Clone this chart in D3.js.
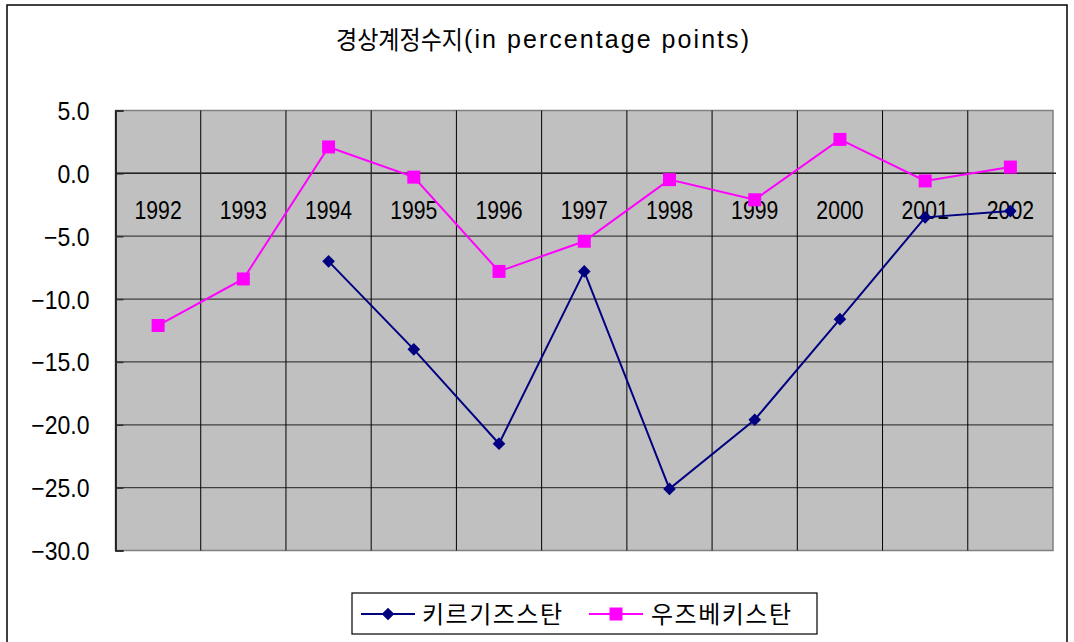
<!DOCTYPE html>
<html>
<head>
<meta charset="utf-8">
<script src="https://cdn.jsdelivr.net/npm/d3@7"></script>
<style>
  body { margin: 0; background: #fff; }
  text { font-family: "Liberation Sans", sans-serif; fill: #000; }
  .kr { font-family: "Noto Sans CJK KR", sans-serif; }
</style>
</head>
<body>
<svg id="chart" width="1074" height="642"></svg>
<script>
var years = ["1992", "1993", "1994", "1995", "1996", "1997", "1998", "1999", "2000", "2001", "2002"];
var kyrgyz = [null, null, -7.0, -14.0, -21.5, -7.8, -25.1, -19.6, -11.6, -3.5, -3.0];
var uzbek = [-12.1, -8.4, 2.1, -0.3, -7.8, -5.4, -0.5, -2.1, 2.7, -0.6, 0.5];
var yTicks = [5, 0, -5, -10, -15, -20, -25, -30];
var seriesNames = ["키르기즈스탄", "우즈베키스탄"];

var svg = d3.select("#chart");
var plotL = 115.5, plotR = 1053, plotT = 110.5, plotB = 550.5;

// squeeze text horizontally to mimic the narrow original font
function squeeze(sel, f) {
  sel.each(function() {
    var w = this.getComputedTextLength();
    d3.select(this).attr("textLength", w * f).attr("lengthAdjust", "spacingAndGlyphs");
  });
}

// outer frame
svg.append("rect").attr("x", 7).attr("y", 5).attr("width", 1060).attr("height", 650)
  .attr("fill", "none").attr("stroke", "#000").attr("stroke-width", 1.5);

svg.append("text").attr("class", "kr").attr("x", 336).attr("y", 49)
  .style("font-size", "25px").attr("textLength", 127).attr("lengthAdjust", "spacingAndGlyphs")
  .text("경상계정수지");
svg.append("text").attr("x", 464).attr("y", 48)
  .style("font-size", "25px").attr("textLength", 285).attr("lengthAdjust", "spacing")
  .text("(in percentage points)");

var x = d3.scaleBand().domain(years).range([plotL, plotR]);
var y = d3.scaleLinear().domain([-30, 5]).range([plotB, plotT]);

svg.append("rect").attr("x", plotL).attr("y", plotT)
  .attr("width", plotR - plotL).attr("height", plotB - plotT)
  .attr("fill", "#c0c0c0").attr("stroke", "#808080").attr("stroke-width", 1.5);

// horizontal grid
svg.append("g").selectAll("line").data(yTicks.filter(function(d) { return d > -30 && d < 5; }))
  .enter().append("line")
  .attr("x1", plotL).attr("x2", plotR)
  .attr("y1", function(d) { return y(d); }).attr("y2", function(d) { return y(d); })
  .attr("stroke", "#404040").attr("stroke-width", 1.2);

// vertical grid
svg.append("g").selectAll("line").data(years.slice(1))
  .enter().append("line")
  .attr("x1", function(d) { return x(d); }).attr("x2", function(d) { return x(d); })
  .attr("y1", plotT).attr("y2", plotB)
  .attr("stroke", "#000").attr("stroke-width", 1);

// y axis
var yAxis = d3.axisLeft(y).tickValues(yTicks).tickSize(-8).tickPadding(26)
  .tickFormat(function(d) { return d3.format(".1f")(d).replace("-", "–"); });
var gy = svg.append("g").attr("transform", "translate(" + plotL + ",0)").call(yAxis);
gy.select(".domain").attr("stroke", "#000").attr("stroke-width", 1.5);
gy.selectAll(".tick line").attr("stroke", "#333").attr("stroke-width", 1.5);
gy.selectAll("text").style("font-size", "25px").attr("dy", "0.36em")
  .style("font-family", "Liberation Sans");
squeeze(gy.selectAll("text"), 0.92);

// category axis at zero
svg.append("line").attr("x1", plotL).attr("x2", plotR + 3)
  .attr("y1", y(0)).attr("y2", y(0)).attr("stroke", "#222").attr("stroke-width", 1.5);
var yl = svg.append("g").selectAll("text").data(years).enter().append("text")
  .attr("x", function(d) { return x(d) + x.bandwidth() / 2; })
  .attr("y", y(0) + 46).attr("text-anchor", "middle")
  .style("font-size", "26.5px").text(function(d) { return d; });
squeeze(yl, 0.8);

var line = d3.line()
  .defined(function(d) { return d != null; })
  .x(function(d, i) { return x(years[i]) + x.bandwidth() / 2; })
  .y(function(d) { return y(d); });

svg.append("path").datum(uzbek).attr("d", line)
  .attr("fill", "none").attr("stroke", "#ff00ff").attr("stroke-width", 2);
svg.append("path").datum(kyrgyz).attr("d", line)
  .attr("fill", "none").attr("stroke", "#000080").attr("stroke-width", 2);

var square = d3.symbol().type(d3.symbolSquare).size(169);
var diamond = d3.symbol().type(d3.symbolSquare).size(80);

svg.append("g").selectAll("path").data(uzbek).enter().append("path")
  .attr("d", square)
  .attr("transform", function(d, i) { return "translate(" + (x(years[i]) + x.bandwidth() / 2) + "," + y(d) + ")"; })
  .attr("fill", "#ff00ff");
svg.append("g").selectAll("path").data(kyrgyz.map(function(d, i) { return {v: d, i: i}; })
    .filter(function(d) { return d.v != null; }))
  .enter().append("path")
  .attr("d", diamond)
  .attr("transform", function(d) { return "translate(" + (x(years[d.i]) + x.bandwidth() / 2) + "," + y(d.v) + ") rotate(45)"; })
  .attr("fill", "#000080");

// legend
var lg = svg.append("g");
lg.append("rect").attr("x", 352).attr("y", 593).attr("width", 465).attr("height", 41)
  .attr("fill", "#fff").attr("stroke", "#000").attr("stroke-width", 1.2);
lg.append("line").attr("x1", 361).attr("x2", 415).attr("y1", 614).attr("y2", 614)
  .attr("stroke", "#000080").attr("stroke-width", 2);
lg.append("path").attr("d", diamond).attr("transform", "translate(388,614) rotate(45)").attr("fill", "#000080");
lg.append("text").attr("class", "kr").attr("x", 422).attr("y", 623)
  .style("font-size", "24px").style("letter-spacing", "1.5px").text(seriesNames[0]);
lg.append("line").attr("x1", 589).attr("x2", 643).attr("y1", 614).attr("y2", 614)
  .attr("stroke", "#ff00ff").attr("stroke-width", 2);
lg.append("path").attr("d", square).attr("transform", "translate(616,614)").attr("fill", "#ff00ff");
lg.append("text").attr("class", "kr").attr("x", 651).attr("y", 623)
  .style("font-size", "24px").style("letter-spacing", "1.5px").text(seriesNames[1]);
</script>
</body>
</html>
